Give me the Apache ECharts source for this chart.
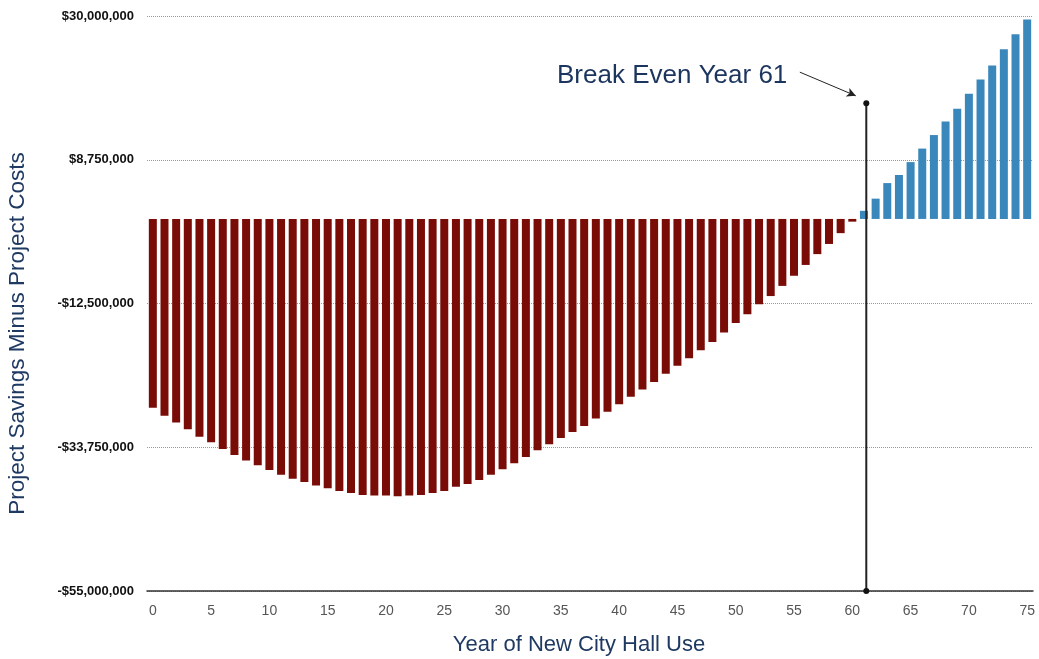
<!DOCTYPE html>
<html>
<head>
<meta charset="utf-8">
<script src="https://cdn.jsdelivr.net/npm/echarts@6/dist/echarts.min.js"></script>
<style>
  html, body { margin: 0; padding: 0; background: #fff; }
  #main { width: 1039px; height: 659px; }
</style>
</head>
<body>
<div id="main"></div>
<script>
// years of use, 0..75
const years = [];
for (let i = 0; i <= 75; i++) years.push(String(i));

// savings minus costs, in millions of dollars
const netMillions = [
  -27.9, -29.1, -30.1, -31.1, -32.2, -33.0, -34.0, -34.9, -35.7, -36.4,
  -37.1, -37.8, -38.4, -38.9, -39.4, -39.8, -40.2, -40.5, -40.8, -40.9,
  -40.9, -41.0, -40.9, -40.8, -40.5, -40.2, -39.6, -39.2, -38.6, -37.8,
  -37.0, -36.1, -35.2, -34.2, -33.3, -32.4, -31.5, -30.6, -29.5, -28.5,
  -27.4, -26.3, -25.2, -24.1, -22.9, -21.7, -20.6, -19.4, -18.2, -16.8,
  -15.4, -14.1, -12.6, -11.4, -9.9, -8.4, -6.8, -5.2, -3.7, -2.1,
  -0.4, 1.2, 3.0, 5.3, 6.5, 8.4, 10.4, 12.4, 14.4, 16.3,
  18.5, 20.6, 22.7, 25.1, 27.3, 29.5
];

const yMin = -55000000;
const yMax = 30000000;
const yStep = 21250000;

// break even marker
const breakEvenYear = 61.2;
const breakEvenTop = 17100000;
const arrowFrom = [55.5, 21700000];
const arrowTo = [60.3, 18200000];

const netValues = netMillions.map(function (v) { return Math.round(v * 1000000); });

function money(v) {
  const s = Math.abs(v).toString().replace(/\B(?=(\d{3})+(?!\d))/g, ",");
  return (v < 0 ? "-$" : "$") + s;
}

var myChart = echarts.init(document.getElementById("main"));

var option = {
  animation: false,
  textStyle: { fontFamily: "Liberation Sans, Arial, sans-serif" },
  grid: { left: 147, right: 6, top: 16, bottom: 68, outerBoundsMode: "none" },
  xAxis: [
    {
      type: "category",
      data: years,
      axisLine: { onZero: false, lineStyle: { color: "#333", width: 1.5 } },
      axisTick: { show: false },
      axisLabel: { interval: 4, color: "#555", fontSize: 14, margin: 13 },
      name: "Year of New City Hall Use",
      nameLocation: "middle",
      nameGap: 43,
      nameTextStyle: { color: "#1f3a62", fontSize: 22, padding: [0, 22, 0, 0] },
    },
    {
      type: "value",
      min: -0.5,
      max: 75.5,
      show: false,
    },
  ],
  yAxis: {
    type: "value",
    min: yMin,
    max: yMax,
    interval: yStep,
    axisLine: { show: false },
    axisTick: { show: false },
    axisLabel: {
      formatter: money,
      color: "#111",
      fontSize: 13,
      fontWeight: "bold",
      margin: 13,
    },
    splitLine: { lineStyle: { color: "#9a9a9a", type: "dotted", width: 1 } },
    name: "Project Savings Minus Project Costs",
    nameLocation: "middle",
    nameGap: 118,
    nameTextStyle: { color: "#1f3a62", fontSize: 22.5, padding: [0, 60, 0, 0] },
  },
  series: [
    {
      name: "net",
      type: "bar",
      data: netValues,
      barWidth: 8,
      itemStyle: {
        color: function (p) { return p.value < 0 ? "#7a0c08" : "#3a87bb"; },
      },
    },
    {
      name: "break even",
      type: "line",
      xAxisIndex: 1,
      data: [[breakEvenYear, breakEvenTop], [breakEvenYear, yMin]],
      symbol: "circle",
      symbolSize: 6,
      itemStyle: { color: "#111" },
      lineStyle: { color: "#222", width: 2 },
      z: 5,
      markLine: {
        silent: true,
        symbol: ["none", "arrow"],
        symbolSize: [7, 9],
        label: { show: false },
        lineStyle: { color: "#222", width: 1, type: "solid" },
        data: [[{ coord: arrowFrom }, { coord: arrowTo }]],
      },
    },
  ],
  graphic: [
    {
      type: "text",
      left: 557,
      top: 63,
      style: {
        text: "Break Even Year 61",
        fill: "#1c355e",
        font: "26px Liberation Sans, Arial, sans-serif",
      },
    },
  ],
};

myChart.setOption(option);
</script>
</body>
</html>
